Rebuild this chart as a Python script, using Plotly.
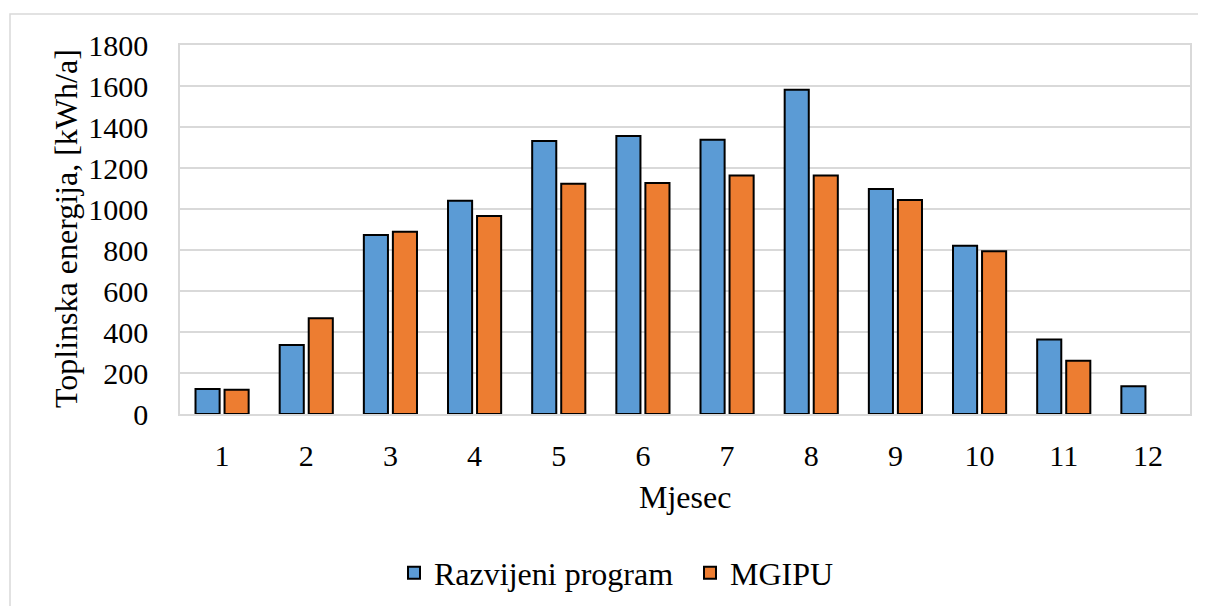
import plotly.graph_objects as go

months = ["1", "2", "3", "4", "5", "6", "7", "8", "9", "10", "11", "12"]
razvijeni = [122, 336, 873, 1040, 1332, 1356, 1338, 1582, 1098, 821, 364, 135]
mgipu = [118, 467, 889, 966, 1123, 1127, 1164, 1164, 1044, 794, 260, None]

FONT = "Liberation Serif"
GRID = "#d9d9d9"

fig = go.Figure()
fig.add_trace(go.Bar(
    x=months, y=razvijeni, name="Razvijeni program",
    marker=dict(color="#5B9BD5", line=dict(color="black", width=2)),
))
fig.add_trace(go.Bar(
    x=months, y=mgipu, name="MGIPU",
    marker=dict(color="#ED7D31", line=dict(color="black", width=2)),
))

# page offset (body margin) compensation
OX, OY = 8, 8
W, H = 1206, 606
L = 180 - OX
T = 45 - OY
R = W - (1190 - OX)
B = H - (414 - OY)
pw = W - L - R
ph = H - T - B

def px(x):
    return (x - OX - L) / pw

def py(y):
    return (H - B - (y - OY)) / ph

fig.update_layout(
    width=W, height=H,
    margin=dict(l=L, r=R, t=T, b=B),
    paper_bgcolor="white", plot_bgcolor="white",
    barmode="group", bargap=0.31, bargroupgap=0.17,
    font=dict(family=FONT, size=30, color="black"),
    showlegend=True,
    legend=dict(
        orientation="h", x=px(394), y=py(573), xanchor="left", yanchor="middle",
        font=dict(family=FONT, size=32, color="black"),
        traceorder="normal", entrywidth=251, entrywidthmode="pixels",
    ),
    xaxis=dict(
        type="category", showgrid=False, showline=True, linecolor=GRID, linewidth=1.5,
        mirror=True, ticks="", ticklabelstandoff=14,
        tickfont=dict(family=FONT, size=30, color="black"),
    ),
    yaxis=dict(
        range=[0, 1800], dtick=200, showgrid=True, gridcolor=GRID, gridwidth=1.5,
        showline=True, linecolor=GRID, linewidth=1.5, mirror=True,
        ticks="", ticklabelstandoff=24, zeroline=False,
        tickfont=dict(family=FONT, size=30, color="black"),
    ),
    annotations=[
        dict(text="Toplinska energija, [kWh/a]", xref="paper", yref="paper",
             x=px(66), y=py(229), textangle=-90, showarrow=False,
             xanchor="center", yanchor="middle",
             font=dict(family=FONT, size=32, color="black")),
        dict(text="Mjesec", xref="paper", yref="paper",
             x=px(685), y=py(497), showarrow=False,
             xanchor="center", yanchor="middle",
             font=dict(family=FONT, size=32, color="black")),
    ],
    shapes=[
        dict(type="rect", xref="paper", yref="paper",
             x0=px(10), y0=py(660), x1=px(1260), y1=py(14),
             line=dict(color=GRID, width=1.5), layer="below"),
    ],
)

fig.write_html("out.html")
